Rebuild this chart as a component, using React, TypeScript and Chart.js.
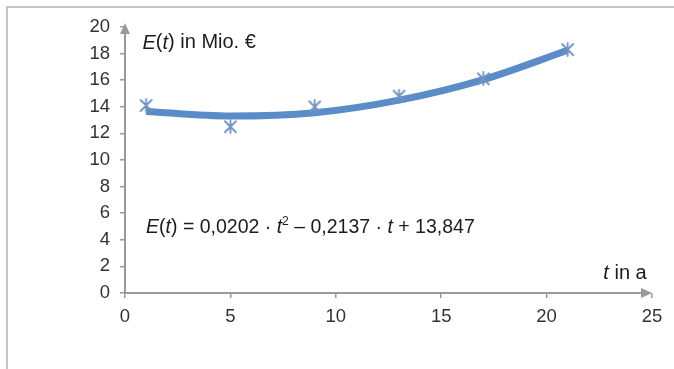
import React, { useEffect, useRef } from "react";
import { Chart, registerables } from "chart.js";

Chart.register(...registerables);

// Measured data points (t in years, E in Mio. €)
const tValues = [1, 5, 9, 13, 17, 21];
const eValues = [14.1, 12.5, 14.0, 14.8, 16.1, 18.3];
// Trend curve at the same t values
const trendValues = [13.65, 13.3, 13.55, 14.5, 16.05, 18.25];
const xTicks = [0, 5, 10, 15, 20, 25];
const yTicks = [0, 2, 4, 6, 8, 10, 12, 14, 16, 18, 20];

const FONT = "'Liberation Sans', Arial, Helvetica, sans-serif";

function makeMarker(): HTMLCanvasElement {
  const c = document.createElement("canvas");
  c.width = 15;
  c.height = 15;
  const g = c.getContext("2d")!;
  g.strokeStyle = "#6e93bf";
  g.lineWidth = 1.8;
  g.lineCap = "round";
  g.beginPath();
  g.moveTo(2, 2);
  g.lineTo(13, 13);
  g.moveTo(13, 2);
  g.lineTo(2, 13);
  g.moveTo(7.5, 1);
  g.lineTo(7.5, 14);
  g.stroke();
  return c;
}

type Seg = { text: string; italic?: boolean; sup?: boolean };

function drawRich(ctx: CanvasRenderingContext2D, segs: Seg[], x: number, y: number, size: number, align: "left" | "right") {
  const widths = segs.map((s) => {
    const fs = s.sup ? size * 0.62 : size;
    ctx.font = `${s.italic ? "italic " : ""}${fs}px ${FONT}`;
    return ctx.measureText(s.text).width;
  });
  const total = widths.reduce((a, b) => a + b, 0);
  let cx = align === "left" ? x : x - total;
  segs.forEach((s, i) => {
    const fs = s.sup ? size * 0.62 : size;
    ctx.font = `${s.italic ? "italic " : ""}${fs}px ${FONT}`;
    ctx.fillText(s.text, cx, s.sup ? y - size * 0.33 : y);
    cx += widths[i];
  });
}

const overlayPlugin = {
  id: "overlay",
  beforeDraw(chart: any) {
    const { ctx } = chart;
    ctx.save();
    ctx.strokeStyle = "#c4c4c4";
    ctx.lineWidth = 2;
    ctx.beginPath();
    ctx.moveTo(7, 369);
    ctx.lineTo(7, 7);
    ctx.lineTo(674, 7);
    ctx.stroke();
    ctx.restore();
  },
  afterDatasetsDraw(chart: any) {
    const { ctx, scales } = chart;
    const xs = scales.x;
    const ys = scales.y;
    const x0 = xs.getPixelForValue(0);
    const y0 = ys.getPixelForValue(0);
    const xEnd = xs.getPixelForValue(25);
    const yEnd = ys.getPixelForValue(20) - 4;
    ctx.save();
    ctx.strokeStyle = "#9a9a9a";
    ctx.fillStyle = "#9a9a9a";
    ctx.lineWidth = 2;
    ctx.beginPath();
    ctx.moveTo(x0, y0);
    ctx.lineTo(xEnd - 8, y0);
    ctx.moveTo(x0, y0);
    ctx.lineTo(x0, yEnd + 8);
    ctx.stroke();
    // arrowheads
    ctx.beginPath();
    ctx.moveTo(xEnd, y0);
    ctx.lineTo(xEnd - 11, y0 - 5);
    ctx.lineTo(xEnd - 11, y0 + 5);
    ctx.closePath();
    ctx.fill();
    ctx.beginPath();
    ctx.moveTo(x0, yEnd);
    ctx.lineTo(x0 - 5, yEnd + 11);
    ctx.lineTo(x0 + 5, yEnd + 11);
    ctx.closePath();
    ctx.fill();

    // texts
    ctx.fillStyle = "#1c1c1c";
    ctx.textBaseline = "middle";
    drawRich(
      ctx,
      [{ text: "E", italic: true }, { text: "(" }, { text: "t", italic: true }, { text: ") in Mio. €" }],
      xs.getPixelForValue(0.83),
      ys.getPixelForValue(18.8),
      20,
      "left"
    );
    drawRich(
      ctx,
      [
        { text: "E", italic: true },
        { text: "(" },
        { text: "t", italic: true },
        { text: ") = 0,0202 · " },
        { text: "t", italic: true },
        { text: "2", sup: true },
        { text: " – 0,2137 · " },
        { text: "t", italic: true },
        { text: " + 13,847" },
      ],
      xs.getPixelForValue(1.0),
      ys.getPixelForValue(4.9),
      19.5,
      "left"
    );
    drawRich(
      ctx,
      [{ text: "t", italic: true }, { text: " in a" }],
      xs.getPixelForValue(24.75),
      ys.getPixelForValue(1.5),
      20,
      "right"
    );
    ctx.restore();
  },
};

export default function App() {
  const ref = useRef<HTMLCanvasElement | null>(null);
  useEffect(() => {
    if (!ref.current) return;
    const marker = makeMarker();
    const chart = new Chart(ref.current, {
      type: "scatter",
      data: {
        datasets: [
          {
            label: "Messwerte",
            data: tValues.map((t, i) => ({ x: t, y: eValues[i] })),
            showLine: false,
            pointStyle: marker as any,
            pointRadius: 7,
            order: 0,
          },
          {
            label: "Trend",
            data: tValues.map((t, i) => ({ x: t, y: trendValues[i] })),
            showLine: true,
            borderColor: "#5a8dc8",
            borderWidth: 7,
            pointRadius: 0,
            tension: 0.4,
            cubicInterpolationMode: "monotone",
            borderCapStyle: "butt",
            order: 1,
          } as any,
        ],
      },
      options: {
        animation: false,
        responsive: false,
        layout: { padding: { left: 0, top: 27, right: 22, bottom: 0 } },
        plugins: { legend: { display: false }, tooltip: { enabled: false } },
        scales: {
          x: {
            type: "linear",
            min: 0,
            max: 25,
            afterBuildTicks: (s: any) => {
              s.ticks = xTicks.map((v) => ({ value: v }));
            },
            afterFit: (s: any) => {
              s.height = 76;
            },
            grid: { drawOnChartArea: false, drawTicks: true, tickLength: 5, color: "#9a9a9a", lineWidth: 1.5 },
            border: { display: false },
            ticks: { color: "#333", font: { family: FONT, size: 18.5 }, padding: 8, maxRotation: 0 },
          },
          y: {
            type: "linear",
            min: 0,
            max: 20,
            afterBuildTicks: (s: any) => {
              s.ticks = yTicks.map((v) => ({ value: v }));
            },
            afterFit: (s: any) => {
              s.width = 125;
            },
            grid: { drawOnChartArea: false, drawTicks: true, tickLength: 5, color: "#9a9a9a", lineWidth: 1.5 },
            border: { display: false },
            ticks: { color: "#333", font: { family: FONT, size: 18.5 }, padding: 10 },
          },
        },
      },
      plugins: [overlayPlugin],
    });
    return () => chart.destroy();
  }, []);
  return (
    <div style={{ position: "absolute", left: 0, top: 0, width: 674, height: 369, background: "#fff" }}>
      <canvas ref={ref} width={674} height={369} style={{ display: "block", width: 674, height: 369 }} />
    </div>
  );
}
